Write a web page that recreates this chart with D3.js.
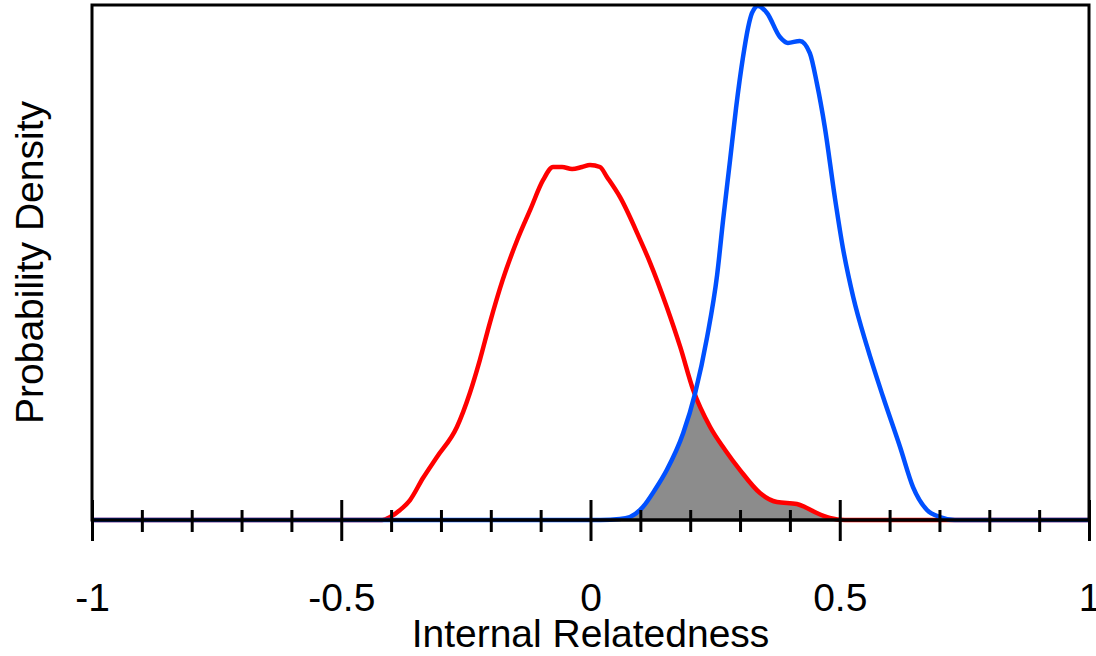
<!DOCTYPE html>
<html>
<head>
<meta charset="utf-8">
<script src="https://cdn.jsdelivr.net/npm/d3@7/dist/d3.min.js"></script>
<style>
    html, body { margin: 0; padding: 0; background: #fff; }
    text { font-family: "Liberation Sans", Arial, sans-serif; fill: #000; }
</style>
</head>
<body>
<svg id="chart" width="1096" height="656"></svg>
<script>
// density curves: [relatedness, density]
var redCurve = [
    [-1, 0], [-0.418, 0], [-0.402, 0.019], [-0.382, 0.064], [-0.362, 0.128], [-0.336, 0.269],
    [-0.308, 0.404], [-0.268, 0.596], [-0.242, 0.814], [-0.222, 1.025], [-0.202, 1.262],
    [-0.176, 1.540], [-0.147, 1.794], [-0.121, 1.987], [-0.095, 2.179], [-0.075, 2.262],
    [-0.057, 2.262], [-0.037, 2.249], [-0.017, 2.262], [-0.001, 2.275], [0.019, 2.262],
    [0.033, 2.198], [0.059, 2.070], [0.099, 1.800], [0.119, 1.653], [0.153, 1.365],
    [0.180, 1.109], [0.206, 0.833], [0.240, 0.596], [0.270, 0.449], [0.300, 0.320],
    [0.340, 0.173], [0.374, 0.115], [0.414, 0.103], [0.434, 0.077], [0.454, 0.045],
    [0.480, 0.013], [0.510, 0], [1, 0]
];

var blueCurve = [
    [-1, 0], [0.020, 0], [0.059, 0.006], [0.079, 0.019], [0.105, 0.083], [0.129, 0.192],
    [0.153, 0.320], [0.186, 0.557], [0.210, 0.814], [0.234, 1.173], [0.254, 1.570],
    [0.266, 1.922], [0.280, 2.307], [0.292, 2.640], [0.306, 2.967], [0.316, 3.153],
    [0.324, 3.249], [0.336, 3.294], [0.354, 3.249], [0.380, 3.095], [0.396, 3.057],
    [0.420, 3.070], [0.440, 2.992], [0.454, 2.800], [0.470, 2.518], [0.490, 2.070],
    [0.506, 1.749], [0.527, 1.429], [0.555, 1.109], [0.587, 0.788], [0.621, 0.468],
    [0.647, 0.211], [0.675, 0.064], [0.701, 0.019], [0.731, 0], [1, 0]
];

var majorTicks = [-1, -0.5, 0, 0.5, 1];
var minorTicks = [-0.9, -0.8, -0.7, -0.6, -0.4, -0.3, -0.2, -0.1, 0.1, 0.2, 0.3, 0.4, 0.6, 0.7, 0.8, 0.9];
var tickLabels = ['-1', '-0.5', '0', '0.5', '1'];

var svg = d3.select('#chart');

var layout = { left: 92, right: 1089, top: 5, bottom: 520 };

var x = d3.scaleLinear().domain([-1, 1]).range([layout.left, layout.right]);
var y = d3.scaleLinear().domain([0, 3.3]).range([layout.bottom, layout.top]);

var line = d3.line()
    .x(d => x(d[0]))
    .y(d => y(d[1]))
    .curve(d3.curveMonotoneX)
;

var area = d3.area()
    .x(d => x(d[0]))
    .y0(y(0))
    .y1(d => y(d[1]))
    .curve(d3.curveMonotoneX)
;

// overlap = area under red, clipped to area under blue
svg.append('clipPath')
    .attr('id', 'under-blue')
    .append('path')
    .attr('d', area(blueCurve))
;

svg.append('path')
    .attr('d', area(redCurve))
    .attr('clip-path', 'url(#under-blue)')
    .attr('fill', '#8c8c8c')
;

svg.append('path')
    .attr('d', line(redCurve))
    .attr('fill', 'none')
    .attr('stroke', '#ff0000')
    .attr('stroke-width', 4.5)
    .attr('stroke-linejoin', 'round')
;

svg.append('path')
    .attr('d', line(blueCurve))
    .attr('fill', 'none')
    .attr('stroke', '#0050ff')
    .attr('stroke-width', 4.5)
    .attr('stroke-linejoin', 'round')
;

// frame (top, left, right); bottom edge is the axis
svg.append('rect')
    .attr('x', layout.left)
    .attr('y', layout.top)
    .attr('width', layout.right - layout.left)
    .attr('height', layout.bottom - layout.top)
    .attr('fill', 'none')
    .attr('stroke', '#000')
    .attr('stroke-width', 3)
;

var minorAxis = svg.append('g')
    .attr('transform', `translate(0, ${ layout.bottom })`)
    .call(d3.axisBottom(x).tickValues(minorTicks).tickSize(12).tickFormat(''))
;
minorAxis.select('.domain').remove();
minorAxis.selectAll('.tick line')
    .attr('y1', -10)
    .attr('stroke', '#000')
    .attr('stroke-width', 3)
;

var majorAxis = svg.append('g')
    .attr('transform', `translate(0, ${ layout.bottom })`)
    .call(d3.axisBottom(x).tickValues(majorTicks).tickSize(21).tickPadding(0)
        .tickFormat((d, i) => tickLabels[i]))
;
majorAxis.select('.domain')
    .attr('stroke', '#000')
    .attr('stroke-width', 3)
    .attr('d', `M${ layout.left },0H${ layout.right }`)
;
majorAxis.selectAll('.tick line')
    .attr('y1', -20)
    .attr('stroke', '#000')
    .attr('stroke-width', 3)
;
majorAxis.selectAll('.tick text')
    .attr('y', 91)
    .attr('dy', null)
    .style('font-family', '"Liberation Sans", Arial, sans-serif')
    .style('font-size', '39px')
    .attr('fill', '#000')
;

svg.append('text')
    .attr('x', x(0))
    .attr('y', 647)
    .attr('text-anchor', 'middle')
    .style('font-size', '39px')
    .text('Internal Relatedness')
;

svg.append('text')
    .attr('transform', `translate(43, ${ (layout.top + layout.bottom) / 2 }) rotate(-90)`)
    .attr('text-anchor', 'middle')
    .style('font-size', '39px')
    .text('Probability Density')
;
</script>
</body>
</html>
